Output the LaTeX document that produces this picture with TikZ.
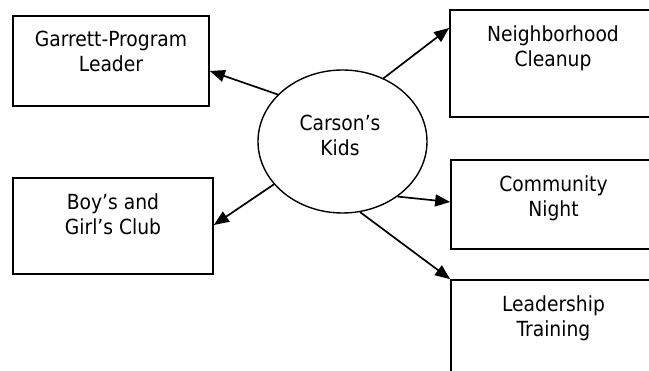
\documentclass[tikz,border=0pt]{standalone}
\usepackage{fontspec}
\setmainfont{DejaVu Sans Condensed}
\usetikzlibrary{arrows.meta,shapes.geometric}
\begin{document}
\begin{tikzpicture}[x=1pt,y=-1pt,
  box/.style={draw, line width=1.7pt, rectangle, inner sep=0pt},
  lbl/.style={anchor=north, inner sep=0pt, align=center, font=\fontsize{20.8}{25}\selectfont},
  conn/.style={line width=1.7pt, -{Triangle[length=15pt,width=12pt]}},
]
\clip (0,0) rectangle (649,371);
\fill[white] (0,0) rectangle (649,371);
% boxes
\node[box, minimum width=196pt, minimum height=90pt] (garrett) at (111,61) {};
\node[box, minimum width=200pt, minimum height=96pt] (boys) at (113,226) {};
\node[box, minimum width=206pt, minimum height=107pt] (neigh) at (553,63.5) {};
\node[box, minimum width=205pt, minimum height=89pt] (comm) at (553.5,204.5) {};
\node[box, minimum width=205pt, minimum height=105pt] (lead) at (553.5,332.5) {};
% hub
\node[draw, ellipse, line width=1.4pt, inner sep=0pt, minimum width=169pt, minimum height=143pt] (hub) at (342.5,141.5) {};
% labels
\node[lbl] (garrett-t) at ([yshift=-16pt]garrett.north) {Garrett-Program\\Leader};
\node[lbl] (boys-t) at ([yshift=-16pt]boys.north) {Boy’s and\\Girl’s Club};
\node[lbl] (neigh-t) at ([yshift=-16pt]neigh.north) {Neighborhood\\Cleanup};
\node[lbl] (comm-t) at ([yshift=-16pt]comm.north) {Community\\Night};
\node[lbl] (lead-t) at ([yshift=-16pt]lead.north) {Leadership\\Training};
\node[lbl] (hub-t) at (340,115) {Carson’s\\Kids};
% connectors
\draw[conn] (hub.144.7) -- ([yshift=-10pt]garrett.east);
\draw[conn] (hub.57) -- ([yshift=35.5pt]neigh.west);
\draw[conn] (hub.212.6) -- ([yshift=1pt]boys.east);
\draw[conn] (hub.315.5) -- ([yshift=2.5pt]comm.west);
\draw[conn] (hub.284) -- (lead.north west);
\end{tikzpicture}
\end{document}
